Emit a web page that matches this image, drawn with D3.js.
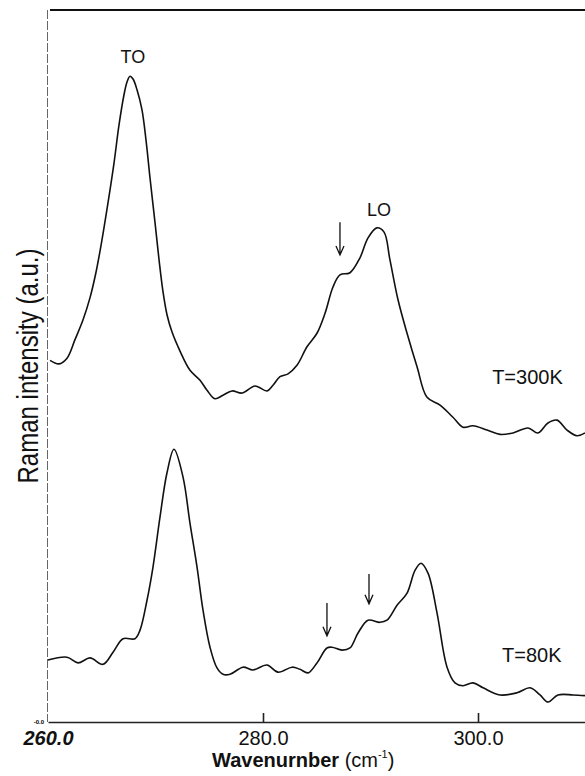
<!DOCTYPE html>
<html>
<head>
<meta charset="utf-8">
<script src="https://cdn.jsdelivr.net/npm/d3@7"></script>
<style>
  html, body { margin: 0; padding: 0; background: #fff; }
  svg { display: block; font-family: 'Liberation Sans', Arial, Helvetica, sans-serif; }
</style>
</head>
<body>
<div id="chart"></div>
<script>
// spectra (wavenumber in cm-1, intensity in a.u.)
const wave300 = [260.19, 261.02, 261.77, 262.51, 263.26, 263.91, 264.47, 265.02, 265.58, 266.14,
  266.60, 267.07, 267.35, 267.63, 267.91, 268.28, 268.74, 269.12, 269.49, 269.95,
  270.33, 270.70, 271.07, 271.53, 272.28, 273.21, 274.14, 274.79,
  275.53, 276.28, 277.12, 278.05, 279.26, 280.37, 280.93, 281.58, 282.33, 283.16,
  284.09, 285.02, 285.77, 286.51, 287.16, 288.09, 289.02, 289.77, 290.60, 291.26,
  291.81, 292.56, 293.40, 294.33, 295.26, 296.47, 297.67, 298.60, 299.53, 300.84,
  302.05, 303.26, 304.65, 305.58, 306.51, 307.35, 308.28, 309.21, 309.95];
const int300 = [50.8, 50.3, 51.1, 53.7, 56.5, 59.6, 63.2, 67.7, 72.9, 78.5,
  83.8, 88.1, 89.9, 90.7, 90.3, 88.8, 86.0, 81.7, 76.4, 70.2,
  64.9, 60.4, 57.2, 54.8, 52.1, 49.4, 48.0, 46.6,
  45.4, 45.9, 46.5, 46.2, 47.2, 46.5, 47.3, 48.5, 48.9, 50.1,
  52.7, 54.6, 57.4, 61.1, 62.8, 63.1, 65.2, 68.0, 69.4, 68.8,
  64.9, 59.3, 54.6, 49.9, 45.6, 44.5, 42.8, 41.4, 41.6, 41.0,
  40.4, 40.6, 41.3, 40.6, 42.0, 42.4, 41.0, 40.2, 40.6];

const wave80 = [260.00, 261.77, 262.79, 263.91, 265.12, 266.05, 266.98, 268.09, 268.56, 269.21,
  269.77, 270.42, 271.07, 271.72, 272.56, 273.21, 273.86, 274.42, 275.07, 275.72,
  276.28, 276.93, 278.14, 279.07, 280.37, 281.40, 282.70, 283.44, 284.19, 285.02,
  285.95, 286.42, 287.35, 288.09, 288.84, 289.77, 290.88, 291.53, 292.47, 293.40,
  294.14, 294.70, 295.35, 296.19, 297.12, 297.86, 298.60, 299.53, 300.47, 302.05,
  303.63, 304.84, 305.77, 306.51, 307.44, 308.84, 309.95];
const int80 = [8.7, 9.1, 8.3, 9.0, 8.1, 9.8, 11.7, 11.7, 12.9, 17.1,
  21.8, 28.8, 35.0, 38.3, 34.4, 27.9, 21.8, 15.7, 10.5, 7.6,
  6.7, 6.7, 7.7, 7.3, 8.0, 7.0, 7.7, 7.4, 6.9, 8.3,
  10.4, 10.5, 10.1, 10.4, 12.5, 14.3, 14.0, 14.3, 16.4, 18.1,
  21.3, 22.3, 20.9, 15.3, 7.7, 5.5, 5.1, 5.5, 4.8, 3.8,
  4.1, 4.8, 3.8, 2.8, 3.8, 3.8, 3.7];

const xTicks = [260, 280, 300];

// peak labels, temperature labels and arrows: [text/wavenumber, ...intensity]
const peakLabels = [['TO', 267.9, 92.6], ['LO', 290.8, 71.1]];
const tempLabels = ['T=300K', 'T=80K'];
const tempPos = [[304.6, 47.5], [305.0, 8.4]];
const arrows = [[287.16, 70.2, 65.6], [285.95, 16.7, 12.1], [289.86, 20.8, 16.6]];

const width = 585, height = 776;

const x = d3.scaleLinear().domain([260, 310]).range([48, 585.5]);
const y = d3.scaleLinear().domain([0, 100]).range([722, 10]);

const svg = d3.select('#chart').append('svg')
  .attr('width', width)
  .attr('height', height);

// frame: faint left edge, top rule
svg.append('line')
  .attr('x1', x(260) - 0.5).attr('x2', x(260) - 0.5)
  .attr('y1', y(100)).attr('y2', y(0))
  .attr('stroke', '#666')
  .attr('stroke-width', 1)
  .attr('stroke-dasharray', '9 2');

svg.append('line')
  .attr('x1', x(260) + 2).attr('x2', width)
  .attr('y1', y(100)).attr('y2', y(100))
  .attr('stroke', '#111')
  .attr('stroke-width', 1.8);

const xAxis = g => g
  .attr('transform', `translate(0,${y(0)})`)
  .call(d3.axisBottom(x).tickValues(xTicks).tickSize(-9).tickSizeOuter(0).tickPadding(9).tickFormat(d3.format('.1f')))
  .call(g => g.select('.domain').attr('stroke', '#222').attr('stroke-width', 1.6))
  .call(g => g.selectAll('.tick line').attr('stroke', '#222').attr('stroke-width', 1.6))
  .call(g => g.selectAll('.tick text')
    .attr('fill', '#111')
    .style('font-size', '20px')
    .style('font-family', "'Liberation Sans', Arial, sans-serif"))
  .call(g => g.selectAll('.tick').filter(d => d === 260)
    .call(t => t.select('line').remove())
    .call(t => t.select('text').style('font-weight', 'bold').style('font-style', 'italic')));

svg.append('g').call(xAxis);

// tiny stray label left of the axis
svg.append('text')
  .attr('x', x(260) - 4)
  .attr('y', y(0) + 2)
  .attr('text-anchor', 'end')
  .style('font-size', '6px')
  .style('font-weight', 'bold')
  .text('-0.0');

const xTitle = svg.append('text')
  .attr('x', 212)
  .attr('y', 767)
  .attr('fill', '#111')
  .style('font-size', '20px')
  .style('font-weight', 'bold');
xTitle.append('tspan').text('Wavenurnber ');
xTitle.append('tspan').style('font-weight', 'normal').text('(cm');
xTitle.append('tspan').style('font-weight', 'normal').style('font-size', '11px').attr('dy', -9).text('-1');
xTitle.append('tspan').style('font-weight', 'normal').attr('dy', 9).text(')');

svg.append('text')
  .attr('transform', 'translate(38,366) rotate(-90)')
  .attr('text-anchor', 'middle')
  .attr('fill', '#111')
  .attr('textLength', 235)
  .attr('lengthAdjust', 'spacingAndGlyphs')
  .style('font-size', '30px')
  .text('Raman intensity (a.u.)');

const line = d3.line()
  .x(d => x(d[0]))
  .y(d => y(d[1]))
  .curve(d3.curveCatmullRom.alpha(0.5));

const series = [d3.zip(wave300, int300), d3.zip(wave80, int80)];

svg.append('g')
  .selectAll('path')
  .data(series)
  .join('path')
  .attr('d', line)
  .attr('fill', 'none')
  .attr('stroke', '#111')
  .attr('stroke-width', 1.6)
  .attr('stroke-linejoin', 'round');

svg.append('g')
  .selectAll('text')
  .data(peakLabels)
  .join('text')
  .attr('x', d => x(d[1]))
  .attr('y', d => y(d[2]))
  .attr('text-anchor', 'middle')
  .attr('fill', '#111')
  .style('font-size', '18px')
  .text(d => d[0]);

svg.append('g')
  .selectAll('text')
  .data(tempLabels)
  .join('text')
  .attr('x', (d, i) => x(tempPos[i][0]))
  .attr('y', (d, i) => y(tempPos[i][1]))
  .attr('text-anchor', 'middle')
  .attr('fill', '#111')
  .style('font-size', '20px')
  .text(d => d);

// down arrows marking the shoulders
svg.append('g')
  .attr('stroke', '#111')
  .attr('stroke-width', 1.3)
  .attr('fill', 'none')
  .selectAll('path')
  .data(arrows)
  .join('path')
  .attr('d', d => {
    const ax = x(d[0]), top = y(d[1]), tip = y(d[2]);
    return `M${ax},${top}V${tip}M${ax - 4},${tip - 9}L${ax},${tip}L${ax + 4},${tip - 9}`;
  });
</script>
</body>
</html>
